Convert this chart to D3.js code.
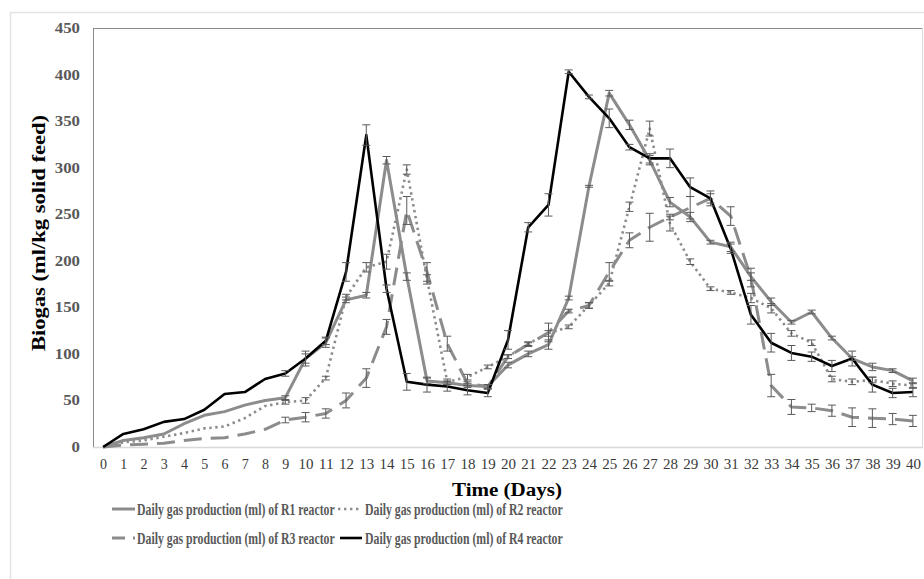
<!DOCTYPE html>
<html>
<head>
<meta charset="utf-8">
<script src="https://cdn.jsdelivr.net/npm/d3@7"></script>
<style>
  body { margin: 0; background: #fff; }
  svg { display: block; font-family: "Liberation Serif", "Times New Roman", serif; }
</style>
</head>
<body>
<div id="chart"></div>
<script>
// days 0..40
var days = d3.range(0, 41);
var yTicks = [0, 50, 100, 150, 200, 250, 300, 350, 400, 450];

var r1 = [0, 7, 10, 14, 25, 34, 38, 45, 50, 53, 95, 112, 158, 163, 308, 183, 71, 69, 66, 65,
          88, 100, 110, 160, 280, 380, 346, 308, 263, 247, 220, 215, 183, 156, 134, 145, 117, 95, 86, 82, 71];
var r2 = [0, 5, 7, 11, 15, 20, 22, 31, 44, 48, 50, 74, 161, 193, 199, 298, 180, 70, 75, 86,
          97, 111, 122, 129, 152, 176, 258, 342, 240, 199, 170, 166, 160, 149, 122, 112, 73, 70, 72, 68, 66];
var r3 = [0, 2, 3, 4, 7, 9, 10, 14, 19, 29, 32, 36, 50, 74, 129, 254, 188, 111, 68, 65,
          97, 110, 123, 146, 152, 188, 222, 236, 247, 257, 267, 248, 182, 66, 43, 42, 39, 32, 31, 30, 28];
var r4 = [0, 14, 19, 27, 30, 40, 57, 59, 73, 79, 95, 114, 188, 335, 170, 70, 67, 65, 61, 58,
          115, 236, 260, 403, 376, 353, 322, 310, 310, 279, 267, 213, 142, 112, 101, 97, 87, 95, 67, 58, 59];

// error bar half widths
var e1 = [0, 0, 0, 0, 0, 0, 0, 0, 0, 2, 8, 5, 3, 3, 4, 4, 3, 2, 2, 2,
          3, 3, 5, 2, 1, 3, 5, 5, 5, 5, 2, 5, 4, 4, 2, 2, 2, 2, 4, 2, 3];
var e2 = [0, 0, 0, 0, 0, 0, 0, 0, 0, 2, 3, 2, 3, 5, 8, 5, 5, 3, 3, 2,
          2, 2, 3, 2, 3, 3, 5, 8, 8, 3, 2, 2, 5, 5, 3, 3, 3, 3, 3, 3, 3];
var e3 = [0, 0, 0, 0, 0, 0, 0, 0, 0, 3, 5, 5, 8, 10, 8, 15, 10, 8, 2, 2,
          2, 2, 10, 2, 3, 10, 8, 15, 3, 12, 8, 10, 10, 12, 8, 4, 6, 10, 10, 6, 6];
var e4 = [0, 0, 0, 0, 0, 0, 0, 0, 0, 3, 5, 4, 10, 11, 4, 9, 8, 5, 5, 4,
          10, 5, 12, 2, 2, 10, 3, 5, 10, 10, 5, 5, 10, 10, 8, 5, 6, 8, 8, 5, 5];

var seriesNames = [
  "Daily gas production (ml) of R1 reactor",
  "Daily gas production (ml) of R2 reactor",
  "Daily gas production (ml) of R3 reactor",
  "Daily gas production (ml) of R4 reactor"
];

var W = 924, H = 579;
var plot = { left: 93, top: 28, right: 923, bottom: 447 };

var svg = d3.select("#chart").append("svg")
    .attr("width", W).attr("height", H);

// outer border
svg.append("rect")
    .attr("x", 10.5).attr("y", 12.5).attr("width", 930).attr("height", 600)
    .attr("fill", "none").attr("stroke", "#e3e3e3").attr("stroke-width", 1.5);

var x = d3.scalePoint().domain(days).range([plot.left, plot.right]).padding(0.5);
var y = d3.scaleLinear().domain([0, 450]).range([plot.bottom, plot.top]);

// plot frame
svg.append("line").attr("x1", plot.left).attr("x2", plot.right).attr("y1", plot.top + 0.5).attr("y2", plot.top + 0.5)
    .attr("stroke", "#8a8a8a");
svg.append("line").attr("x1", plot.right - 0.5).attr("x2", plot.right - 0.5).attr("y1", plot.top).attr("y2", plot.bottom)
    .attr("stroke", "#dadada");
svg.append("line").attr("x1", plot.left).attr("x2", plot.right).attr("y1", plot.bottom + 0.5).attr("y2", plot.bottom + 0.5)
    .attr("stroke", "#d9d9d9").attr("stroke-width", 1.5);
svg.append("line").attr("x1", plot.left + 0.5).attr("x2", plot.left + 0.5).attr("y1", plot.top).attr("y2", plot.bottom)
    .attr("stroke", "#8a8a8a");

// y axis
var yAxis = svg.append("g")
    .attr("transform", "translate(" + plot.left + ",0)")
    .call(d3.axisLeft(y).tickValues(yTicks).tickSize(0).tickPadding(13));
yAxis.select(".domain").remove();
yAxis.selectAll("text")
    .style("font-family", "Liberation Serif")
    .style("font-size", "14px")
    .style("font-weight", "bold")
    .attr("fill", "#595959")
    .attr("textLength", function (d) { return String(d).length * 8.4; })
    .attr("lengthAdjust", "spacingAndGlyphs");

// x axis
var xAxis = svg.append("g")
    .attr("transform", "translate(0," + plot.bottom + ")")
    .call(d3.axisBottom(x).tickSize(0).tickPadding(12));
xAxis.select(".domain").remove();
xAxis.selectAll("text")
    .style("font-family", "Liberation Serif")
    .style("font-size", "14px")
    .attr("fill", "#3a3a3a")
    .attr("textLength", function (d) { return String(d).length > 1 ? 15 : 7; })
    .attr("lengthAdjust", "spacingAndGlyphs");

// titles
svg.append("text")
    .attr("x", 507).attr("y", 496)
    .attr("text-anchor", "middle")
    .style("font-size", "18px").style("font-weight", "bold")
    .attr("fill", "#000")
    .attr("textLength", 110).attr("lengthAdjust", "spacingAndGlyphs")
    .text("Time (Days)");

svg.append("text")
    .attr("transform", "translate(45,233) rotate(-90)")
    .attr("text-anchor", "middle")
    .style("font-size", "18px").style("font-weight", "bold")
    .attr("fill", "#000")
    .attr("textLength", 236).attr("lengthAdjust", "spacingAndGlyphs")
    .text("Biogas (ml/kg solid feed)");

var gray = "#8c8c8c";
var styles = [
  { color: gray, width: 3, dash: null },
  { color: gray, width: 2.6, dash: "2.4,3.6" },
  { color: gray, width: 3, dash: "18,9" },
  { color: "#000", width: 2.6, dash: null }
];
var series = [r1, r2, r3, r4];
var errs = [e1, e2, e3, e4];

var line = d3.line()
    .x(function (d, i) { return x(days[i]); })
    .y(function (d) { return y(d); });

series.forEach(function (s, k) {
  svg.append("path")
      .datum(s)
      .attr("d", line)
      .attr("fill", "none")
      .attr("stroke", styles[k].color)
      .attr("stroke-width", styles[k].width)
      .attr("stroke-dasharray", styles[k].dash)
      .attr("stroke-linejoin", "round");
});

// error bars
series.forEach(function (s, k) {
  var g = svg.append("g").attr("stroke", "#5a5a5a").attr("stroke-width", 1);
  s.forEach(function (v, i) {
    var e = errs[k][i];
    if (!e) return;
    var cx = x(days[i]);
    g.append("line").attr("x1", cx).attr("x2", cx).attr("y1", y(v - e)).attr("y2", y(v + e));
    g.append("line").attr("x1", cx - 4).attr("x2", cx + 4).attr("y1", y(v - e)).attr("y2", y(v - e));
    g.append("line").attr("x1", cx - 4).attr("x2", cx + 4).attr("y1", y(v + e)).attr("y2", y(v + e));
  });
});

// legend
var legendPos = [
  { x: 112, y: 509 },
  { x: 338, y: 509 },
  { x: 112, y: 538 },
  { x: 340, y: 538 }
];
var legendLen = [23, 24, 23, 22];
legendPos.forEach(function (p, k) {
  svg.append("line")
      .attr("x1", p.x).attr("x2", p.x + legendLen[k])
      .attr("y1", p.y).attr("y2", p.y)
      .attr("stroke", styles[k].color)
      .attr("stroke-width", styles[k].width)
      .attr("stroke-dasharray", k === 2 ? "13,8" : styles[k].dash);
  var tx = k % 2 === 0 ? 137 : 365;
  var g = svg.append("g");
  var t = g.append("text")
      .attr("x", 0).attr("y", 0)
      .style("font-size", "17px").style("font-weight", "bold")
      .attr("fill", "#595959")
      .text(seriesNames[k]);
  // squeeze to the narrow width seen in the picture
  var sx = 198 / t.node().getComputedTextLength();
  g.attr("transform", "translate(" + tx + "," + (p.y + 6) + ") scale(" + sx + ",1)");
});
</script>
</body>
</html>
